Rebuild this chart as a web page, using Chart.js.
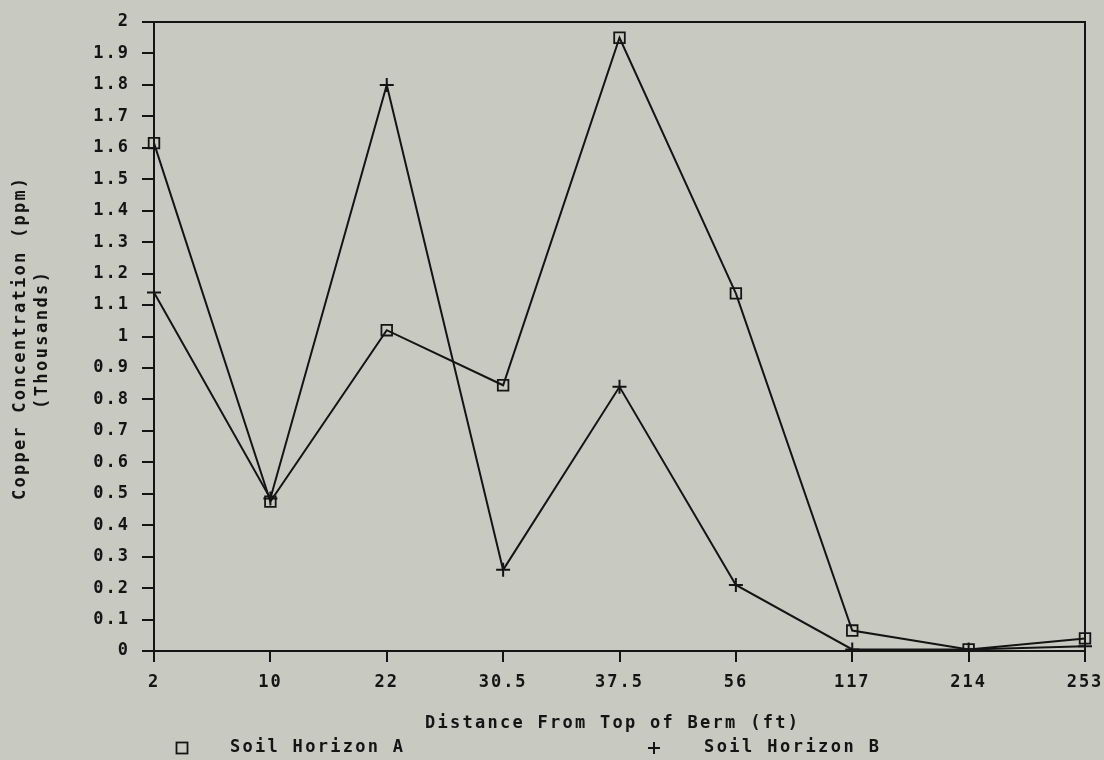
<!DOCTYPE html>
<html><head><meta charset="utf-8">
<script src="https://cdn.jsdelivr.net/npm/chart.js@4.4.1/dist/chart.umd.min.js"></script>
<style>
html,body{margin:0;padding:0;background:#c8c9c0;}
#wrap{width:1104px;height:760px;}
</style></head>
<body><div id="wrap"><canvas id="c" width="1104" height="760"></canvas></div>
<script>
const categories = ['2','10','22','30.5','37.5','56','117','214','253'];
const horizonA = [1.615, 0.475, 1.02, 0.845, 1.95, 1.137, 0.065, 0.005, 0.04];
const horizonB = [1.14, 0.485, 1.80, 0.258, 0.84, 0.21, 0.005, 0.005, 0.015];
const seriesNames = ['Soil Horizon A', 'Soil Horizon B'];
const yTitle = ['Copper Concentration (ppm)', '(Thousands)'];
const xTitle = 'Distance From Top of Berm (ft)';

const FONT = '"DejaVu Sans Mono"';
const INK = '#141414';

function fitText(ctx, text, x, y, width){
  ctx.letterSpacing = '0px';
  const w = ctx.measureText(text).width;
  const sp = text.length > 1 ? (width - w) / (text.length - 1) : 0;
  ctx.letterSpacing = sp.toFixed(2) + 'px';
  ctx.textAlign = 'left';
  ctx.fillText(text, x, y);
  ctx.letterSpacing = '0px';
}

const deco = {
  id:'deco',
  beforeDraw(chart){ chart.ctx.letterSpacing = '2px'; },
  afterDatasetsDraw(chart){
    const {ctx, chartArea:a} = chart;
    ctx.save();
    ctx.strokeStyle=INK; ctx.lineWidth=2;
    ctx.strokeRect(a.left, a.top, a.right-a.left, a.bottom-a.top);
    ctx.restore();
  },
  afterDraw(chart){
    const {ctx} = chart;
    ctx.save();
    ctx.font = 'bold 17px ' + FONT;
    ctx.fillStyle=INK; ctx.strokeStyle=INK; ctx.textBaseline='middle';
    // x title
    fitText(ctx, xTitle, 425, 724, 373);
    // y title (rotated)
    ctx.save();
    ctx.translate(21, 339); ctx.rotate(-Math.PI/2);
    fitText(ctx, yTitle[0], -161, 0, 322);
    ctx.restore();
    ctx.save();
    ctx.translate(43, 341); ctx.rotate(-Math.PI/2);
    fitText(ctx, yTitle[1], -68, 0, 137);
    ctx.restore();
    // legend
    const ly = 748;
    ctx.lineWidth=1.8;
    ctx.strokeRect(176.5, ly-5.5, 11, 11);
    fitText(ctx, seriesNames[0], 230, ly, 173);
    ctx.lineWidth=2;
    ctx.beginPath();
    ctx.moveTo(648, ly); ctx.lineTo(660, ly);
    ctx.moveTo(654, ly-6); ctx.lineTo(654, ly+6);
    ctx.stroke();
    fitText(ctx, seriesNames[1], 704, ly, 175);
    ctx.restore();
  }
};

new Chart(document.getElementById('c'), {
  type:'line',
  data:{
    labels: categories,
    datasets:[
      {label: seriesNames[0], data: horizonA, borderColor:INK, borderWidth:2, pointStyle:'rect', pointRadius:7.5, pointBorderWidth:1.8, pointBorderColor:INK, pointBackgroundColor:'rgba(0,0,0,0)', tension:0},
      {label: seriesNames[1], data: horizonB, borderColor:INK, borderWidth:2, pointStyle:'cross', pointRadius:7, pointBorderWidth:2, pointBorderColor:INK, tension:0}
    ]
  },
  options:{
    responsive:false, animation:false, devicePixelRatio:1,
    layout:{padding:{left:8, top:22, right:19, bottom:29}},
    plugins:{legend:{display:false}, tooltip:{enabled:false}},
    scales:{
      x:{
        offset:false,
        grid:{drawOnChartArea:false, tickLength:11, color:INK, lineWidth:2, tickColor:INK},
        border:{display:true, color:INK, width:2},
        ticks:{color:INK, font:{family:'DejaVu Sans Mono', size:17, weight:'bold'}, padding:10, maxRotation:0},
        title:{display:false},
        afterFit(s){ s.height = 80; s.paddingLeft = 0; s.paddingRight = 0; }
      },
      y:{
        min:0, max:2,
        grid:{drawOnChartArea:false, tickLength:12, color:INK, lineWidth:2, tickColor:INK},
        border:{display:true, color:INK, width:2},
        ticks:{stepSize:0.1, color:INK, font:{family:'DejaVu Sans Mono', size:17, weight:'bold'}, padding:12,
          callback:(v)=>String(Math.round(v*10)/10)},
        title:{display:false},
        afterFit(s){ s.width = 146; s.paddingTop = 0; s.paddingBottom = 0; }
      }
    }
  },
  plugins:[deco]
});
</script></body></html>
